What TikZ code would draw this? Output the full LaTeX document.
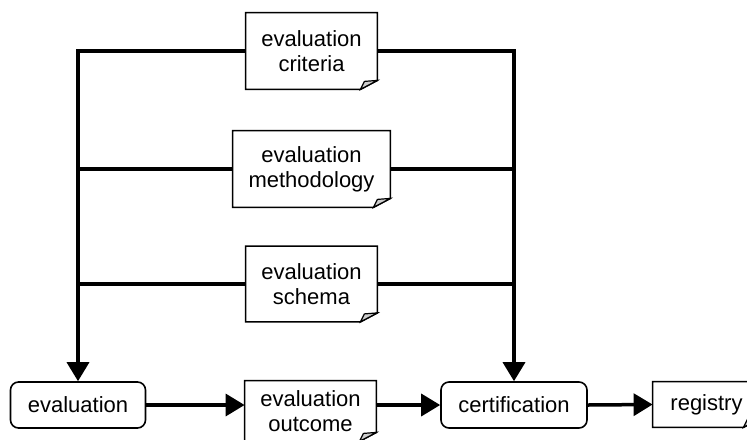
\documentclass[tikz,border=0pt]{standalone}
\usepackage{fontspec}
\setmainfont{Liberation Sans}
\usetikzlibrary{arrows.meta}

\tikzset{
  box/.style={align=center, inner sep=0pt, font=\fontsize{11}{12.5}\selectfont},
  step box/.style={box, draw, line width=0.8pt, rounded corners=4pt},
  rail/.style={line width=1.75pt},
  flow/.style={rail, -{Triangle[length=9.5pt, width=11pt]}}
}

\begin{document}
\begin{tikzpicture}[x=0.5pt, y=-0.5pt]
\useasboundingbox (0,0) rectangle (747,439);
\clip (0,0) rectangle (747,439);

\node[box, minimum width=65.5pt, minimum height=38pt] (crit) at (311.5,51) {evaluation\\criteria};
\node[box, minimum width=78.5pt, minimum height=38pt] (meth) at (311.5,169) {evaluation\\methodology};
\node[box, minimum width=65.5pt, minimum height=37.5pt] (schema) at (311.5,284) {evaluation\\schema};
\node[box, minimum width=65.5pt, minimum height=30pt] (outcome) at (310.5,411) {evaluation\\outcome};
\node[box, minimum width=53.5pt, minimum height=22.5pt] (registry) at (706.5,404.5) {registry};

\node[step box, minimum width=67.5pt, minimum height=23pt] (eval) at (78,405) {evaluation};
\node[step box, minimum width=73pt, minimum height=23pt] (cert) at (514,405) {certification};

\foreach \n in {crit,meth,schema,outcome,registry} {
  \draw[line width=0.8pt, line join=miter]
  (\n.north west) -- (\n.north east) -- ([yshift=4.5pt]\n.south east)
  -- ([xshift=-8.5pt]\n.south east) -- (\n.south west) -- cycle;
  \filldraw[line width=0.6pt, fill=gray!40]
  ([xshift=-8.5pt]\n.south east) -- ([xshift=-6.5pt, yshift=4pt]\n.south east)
  -- ([yshift=4.5pt]\n.south east) -- cycle;
}

\draw[flow] (crit.west) -| (eval.north);
\draw[flow] (crit.east) -| (cert.north);

\draw[rail]
(meth.west) -- (meth.west -| eval.north)
(meth.east) -- (meth.east -| cert.north)
(schema.west) -- (schema.west -| eval.north)
(schema.east) -- (schema.east -| cert.north);

\draw[flow] (eval.east) -- (eval.east -| outcome.west);
\draw[flow] (outcome.east |- cert.west) -- (cert.west);
\draw[flow] (cert.east) -- (registry.west);

\end{tikzpicture}
\end{document}
